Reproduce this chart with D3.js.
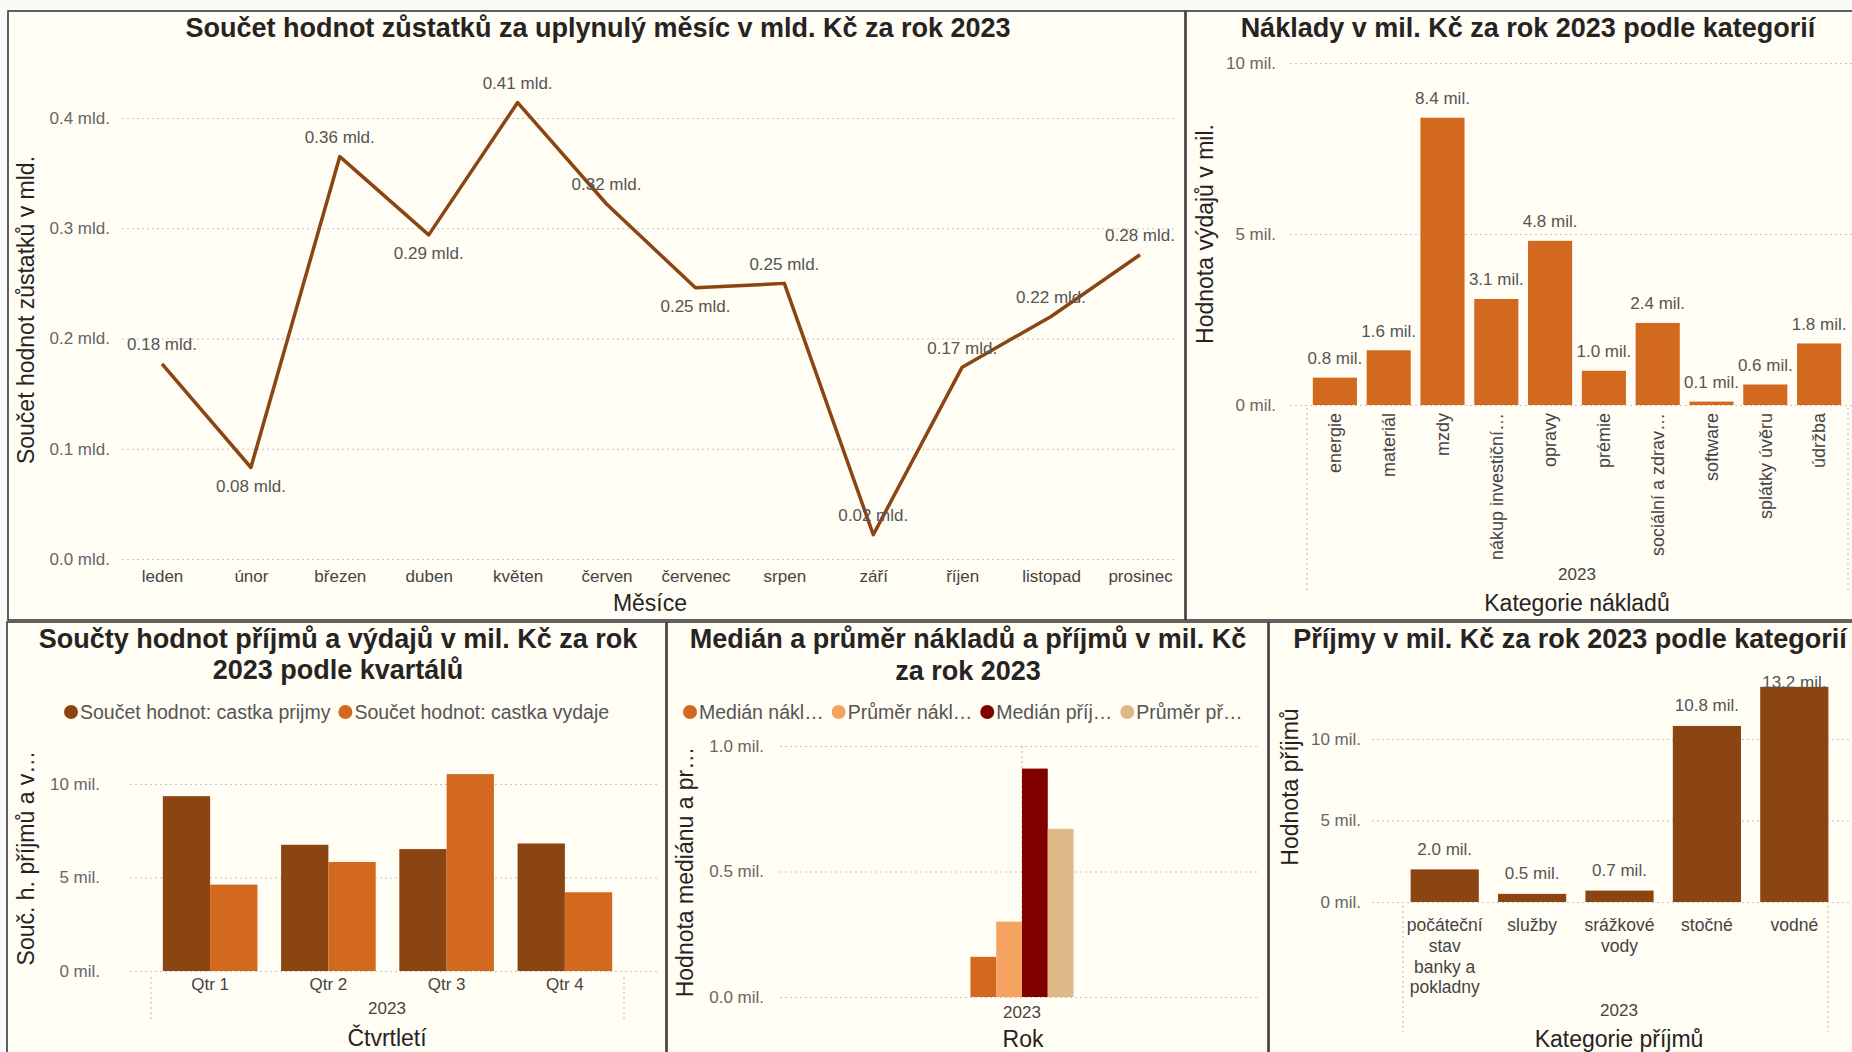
<!DOCTYPE html>
<html lang="cs">
<head>
<meta charset="utf-8">
<title>Finanční přehled 2023</title>
<script src="https://cdn.jsdelivr.net/npm/d3@7"></script>
<style>
  html, body { margin: 0; padding: 0; background: #fafaf8; }
  svg { display: block; }
</style>
</head>
<body>
<svg id="dash" width="1852" height="1052"></svg>
<script>
// ---- data ---------------------------------------------------------------
const months = ["leden", "únor", "březen", "duben", "květen", "červen",
  "červenec", "srpen", "září", "říjen", "listopad", "prosinec"];
const balances = [0.177, 0.083, 0.365, 0.294, 0.414, 0.322,
  0.246, 0.250, 0.022, 0.174, 0.220, 0.276];            // mld. Kč
const balanceTicks = [0, 0.1, 0.2, 0.3, 0.4];

const costCategories = ["energie", "materiál", "mzdy", "nákup investiční…", "opravy",
  "prémie", "sociální a zdrav…", "software", "splátky úvěru", "údržba"];
const costValues = [0.8, 1.6, 8.4, 3.1, 4.8, 1.0, 2.4, 0.1, 0.6, 1.8];   // mil. Kč
const costTicks = [0, 5, 10];

const quarters = ["Qtr 1", "Qtr 2", "Qtr 3", "Qtr 4"];
const quarterSeries = ["Součet hodnot: castka prijmy", "Součet hodnot: castka vydaje"];
const incomeByQuarter = [9.35, 6.75, 6.52, 6.82];    // mil. Kč
const expenseByQuarter = [4.62, 5.83, 10.53, 4.21];  // mil. Kč
const quarterTicks = [0, 5, 10];

const statNames = ["Medián nákl…", "Průměr nákl…", "Medián příj…", "Průměr př…"];
const statValues = [0.16, 0.30, 0.91, 0.67];          // mil. Kč
const statTicks = [0, 0.5, 1.0];

const incomeCategories = ["počáteční stav banky a pokladny", "služby", "srážkové vody", "stočné", "vodné"];
const incomeValues = [2.0, 0.5, 0.7, 10.8, 13.2];     // mil. Kč
const incomeTicks = [0, 5, 10];

// ---- styling ------------------------------------------------------------
const FONT = "'Liberation Sans', Arial, sans-serif";
const C_BROWN = "#8B4513", C_ORANGE = "#D2691E", C_SAND = "#F4A460",
      C_MAROON = "#800000", C_WOOD = "#DEB887";
const C_TITLE = "#252423", C_LABEL = "#666666", C_GRID = "#c4c4c4";
const TITLE_SIZE = 27, AXIS_TITLE_SIZE = 23, LEGEND_SIZE = 19.5;

const svg = d3.select("#dash");

function panel(x0, y0, x1, y1) {
  svg.append("rect").attr("x", x0).attr("y", y0)
    .attr("width", x1 - x0).attr("height", y1 - y0)
    .attr("fill", "#fffdf4").attr("stroke", "#3a3a3a").attr("stroke-width", 1.6);
}

function text(g, x, y, str, size, opts = {}) {
  const t = g.append("text").attr("x", x).attr("y", y)
    .attr("text-anchor", opts.anchor || "middle")
    .attr("dominant-baseline", "central")
    .attr("fill", opts.fill || C_TITLE)
    .style("font-family", FONT).style("font-size", size + "px")
    .style("font-weight", opts.bold ? "bold" : "normal")
    .text(str);
  if (opts.rotate) t.attr("transform", `rotate(${opts.rotate},${x},${y})`);
  return t;
}

function yAxis(scale, ticks, fmt, x, gridRight, pad) {
  const ax = d3.axisLeft(scale).tickValues(ticks).tickFormat(fmt)
    .tickSize(-(gridRight - x)).tickPadding(pad);
  const a = svg.append("g").attr("transform", `translate(${x},0)`).call(ax);
  a.select(".domain").remove();
  a.selectAll(".tick line").attr("stroke", C_GRID).attr("stroke-dasharray", "2,3").attr("stroke-width", 1.2);
  a.selectAll(".tick text").attr("fill", C_LABEL).style("font-family", FONT).style("font-size", "17px");
  return a;
}

function xAxis(scale, y, pad, size = 17) {
  const a = svg.append("g").attr("transform", `translate(0,${y})`)
    .call(d3.axisBottom(scale).tickSize(0).tickPadding(pad));
  a.select(".domain").remove();
  a.selectAll(".tick text").attr("fill", "#444").style("font-family", FONT).style("font-size", size + "px");
  return a;
}

function vDots(x, y0, y1) {
  svg.append("line").attr("x1", x).attr("x2", x).attr("y1", y0).attr("y2", y1)
    .attr("stroke", C_GRID).attr("stroke-dasharray", "2,3").attr("stroke-width", 1.2);
}

function legend(items, colors, x, y, size) {
  let cx = x;
  items.forEach((name, i) => {
    svg.append("circle").attr("cx", cx + 7).attr("cy", y).attr("r", 7).attr("fill", colors[i]);
    const t = text(svg, cx + 16, y, name, size, { anchor: "start", fill: "#555" });
    cx += 16 + t.node().getComputedTextLength() + 8;
  });
}

// ---- panels -------------------------------------------------------------
panel(8, 11, 1185, 620);
panel(1186, 11, 1870, 620);
panel(7, 622, 666, 1070);
panel(667, 622, 1268, 1070);
panel(1269, 622, 1870, 1070);

// ---- 1: monthly balances (line) ------------------------------------------
{
  text(svg, 598, 28, "Součet hodnot zůstatků za uplynulý měsíc v mld. Kč za rok 2023", TITLE_SIZE, { bold: true });
  const x = d3.scalePoint().domain(months).range([162, 1140]);
  const y = d3.scaleLinear().domain([0, 0.4]).range([559, 118]);
  yAxis(y, balanceTicks, d => d.toFixed(1) + " mld.", 122, 1175, 12);
  xAxis(x, 559, 11);

  svg.append("path").datum(balances)
    .attr("fill", "none").attr("stroke", C_BROWN).attr("stroke-width", 3.5)
    .attr("stroke-linejoin", "round")
    .attr("d", d3.line().x((d, i) => x(months[i])).y(d => y(d)));

  // local minima get their label below the point
  const below = new Set(["únor", "duben", "červenec"]);
  months.forEach((m, i) => {
    const ly = y(balances[i]) + (below.has(m) ? 19 : -19);
    text(svg, x(m), ly, balances[i].toFixed(2) + " mld.", 17, { fill: "#555" });
  });

  text(svg, 650, 603, "Měsíce", AXIS_TITLE_SIZE);
  text(svg, 26, 310, "Součet hodnot zůstatků v mld.", AXIS_TITLE_SIZE, { rotate: -90 });
}

// ---- 2: costs by category (bars) ------------------------------------------
{
  text(svg, 1528, 28, "Náklady v mil. Kč za rok 2023 podle kategorií", TITLE_SIZE, { bold: true });
  const x = d3.scaleBand().domain(costCategories).range([1308, 1846]).paddingInner(0.18).paddingOuter(0.09);
  const y = d3.scaleLinear().domain([0, 10]).range([405, 63]);
  yAxis(y, costTicks, d => d + " mil.", 1290, 1852, 14);

  svg.append("g").selectAll("rect").data(costValues).join("rect")
    .attr("x", (d, i) => x(costCategories[i])).attr("width", x.bandwidth())
    .attr("y", d => y(d)).attr("height", d => y(0) - y(d)).attr("fill", C_ORANGE);
  costValues.forEach((v, i) => {
    text(svg, x(costCategories[i]) + x.bandwidth() / 2, y(v) - 19, v.toFixed(1) + " mil.", 17, { fill: "#555" });
  });

  const ax = xAxis(x, 405, 0, 18);
  ax.selectAll(".tick text")
    .attr("transform", "rotate(-90)").attr("x", -8).attr("y", 0).attr("dy", "0.35em")
    .attr("text-anchor", "end");

  vDots(1307, 408, 590);
  vDots(1848, 408, 590);
  text(svg, 1577, 574, "2023", 17, { fill: "#444" });
  text(svg, 1577, 603, "Kategorie nákladů", AXIS_TITLE_SIZE);
  text(svg, 1205, 234, "Hodnota výdajů v mil.", AXIS_TITLE_SIZE, { rotate: -90 });
}

// ---- 3: income and expenses by quarter (grouped bars) -----------------------
{
  text(svg, 338, 639, "Součty hodnot příjmů a výdajů v mil. Kč za rok", TITLE_SIZE, { bold: true });
  text(svg, 338, 670, "2023 podle kvartálů", TITLE_SIZE, { bold: true });
  legend(quarterSeries, [C_BROWN, C_ORANGE], 64, 712, LEGEND_SIZE);

  const x = d3.scaleBand().domain(quarters).range([151, 624]).paddingInner(0.2).paddingOuter(0.1);
  const xs = d3.scaleBand().domain(quarterSeries).range([0, x.bandwidth()]);
  const y = d3.scaleLinear().domain([0, 10]).range([971, 784]);
  yAxis(y, quarterTicks, d => d + " mil.", 130, 660, 30);

  const rows = quarters.map((q, i) => ({ q, vals: [incomeByQuarter[i], expenseByQuarter[i]] }));
  const colors = [C_BROWN, C_ORANGE];
  svg.append("g").selectAll("g").data(rows).join("g")
    .attr("transform", d => `translate(${x(d.q)},0)`)
    .selectAll("rect").data(d => d.vals).join("rect")
    .attr("x", (d, j) => xs(quarterSeries[j])).attr("width", xs.bandwidth())
    .attr("y", d => y(d)).attr("height", d => y(0) - y(d))
    .attr("fill", (d, j) => colors[j]);

  xAxis(x, 971, 7);
  vDots(151, 977, 1020);
  vDots(624, 977, 1020);
  text(svg, 387, 1008, "2023", 17, { fill: "#444" });
  text(svg, 387, 1038, "Čtvrtletí", AXIS_TITLE_SIZE);
  text(svg, 26, 858, "Souč. h. příjmů a v…", AXIS_TITLE_SIZE, { rotate: -90 });
}

// ---- 4: medians and averages (bars) ------------------------------------------
{
  text(svg, 968, 639, "Medián a průměr nákladů a příjmů v mil. Kč", TITLE_SIZE, { bold: true });
  text(svg, 968, 671, "za rok 2023", TITLE_SIZE, { bold: true });
  const colors = [C_ORANGE, C_SAND, C_MAROON, C_WOOD];
  legend(statNames, colors, 683, 712, LEGEND_SIZE);

  const x = d3.scaleBand().domain(["2023"]).range([786, 1258]).paddingInner(0).paddingOuter(1.79);
  const xs = d3.scaleBand().domain(statNames).range([0, x.bandwidth()]);
  const y = d3.scaleLinear().domain([0, 1]).range([997, 746]);
  yAxis(y, statTicks, d => d.toFixed(1) + " mil.", 780, 1258, 16);
  vDots(x("2023") + x.bandwidth() / 2, 746, 997);

  svg.append("g").selectAll("rect").data(statValues).join("rect")
    .attr("x", (d, i) => x("2023") + xs(statNames[i])).attr("width", xs.bandwidth())
    .attr("y", d => y(d)).attr("height", d => y(0) - y(d))
    .attr("fill", (d, i) => colors[i]);

  xAxis(x, 997, 9);
  text(svg, 1023, 1039, "Rok", AXIS_TITLE_SIZE);
  text(svg, 685, 872, "Hodnota mediánu a pr…", AXIS_TITLE_SIZE, { rotate: -90 });
}

// ---- 5: income by category (bars) -------------------------------------------
{
  text(svg, 1570, 639, "Příjmy v mil. Kč za rok 2023 podle kategorií", TITLE_SIZE, { bold: true });
  const x = d3.scaleBand().domain(incomeCategories).range([1401, 1838]).paddingInner(0.22).paddingOuter(0.11);
  const y = d3.scaleLinear().domain([0, 10]).range([902, 739]);
  yAxis(y, incomeTicks, d => d + " mil.", 1372, 1852, 11);

  svg.append("g").selectAll("rect").data(incomeValues).join("rect")
    .attr("x", (d, i) => x(incomeCategories[i])).attr("width", x.bandwidth())
    .attr("y", d => y(d)).attr("height", d => y(0) - y(d)).attr("fill", C_BROWN);
  // value labels stay inside the plot area, below the title
  incomeValues.forEach((v, i) => {
    const ly = Math.max(y(v) - 20, 682);
    text(svg, x(incomeCategories[i]) + x.bandwidth() / 2, ly, v.toFixed(1) + " mil.", 17, { fill: "#555" });
  });

  const ax = xAxis(x, 902, 17, 17.5);
  // wrap long category names onto several lines
  ax.selectAll(".tick text").each(function () {
    const t = d3.select(this);
    const words = t.text().split(" ");
    const maxW = x.bandwidth();
    t.text(null);
    let line = [], tspan = t.append("tspan").attr("x", 0);
    words.forEach(w => {
      line.push(w);
      tspan.text(line.join(" "));
      if (tspan.node().getComputedTextLength() > maxW && line.length > 1) {
        line.pop();
        tspan.text(line.join(" "));
        line = [w];
        tspan = t.append("tspan").attr("x", 0).attr("dy", "1.18em").text(w);
      }
    });
  });

  vDots(1403, 906, 1032);
  vDots(1828, 906, 1032);
  text(svg, 1619, 1010, "2023", 17, { fill: "#444" });
  text(svg, 1619, 1039, "Kategorie příjmů", AXIS_TITLE_SIZE);
  text(svg, 1290, 787, "Hodnota příjmů", AXIS_TITLE_SIZE, { rotate: -90 });
}
</script>
</body>
</html>
